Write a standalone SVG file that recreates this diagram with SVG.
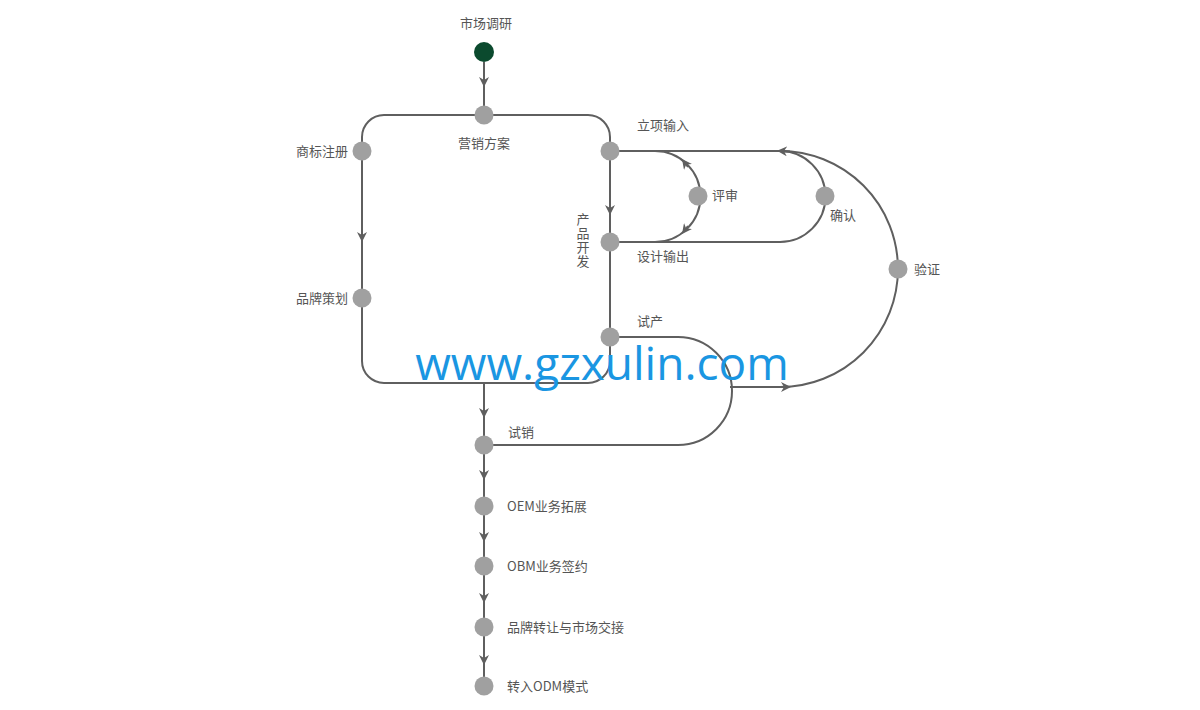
<svg xmlns="http://www.w3.org/2000/svg" width="1200" height="710" viewBox="0 0 1200 710">
<style>
.l{fill:none;stroke:#5f5f5f;stroke-width:2}
.n{fill:#a0a0a0}
text{font-family:"Noto Sans CJK SC","Noto Sans",sans-serif;font-size:13px;fill:#555}
</style>
<defs>
<marker id="a" viewBox="0 0 10 10" refX="5" refY="5" markerWidth="5" markerHeight="5" orient="auto"><path d="M0,0 L10,5 L0,10 L3,5 z" fill="#5f5f5f"/></marker>
</defs>
<rect width="1200" height="710" fill="#fff"/>
<g id="connectors">
<path class="l" d="M484,62 V115 M484,383 V685"/>
<path class="l" d="M484,62 V82" marker-end="url(#a)"/>
<path class="l" d="M484,383 V413" marker-end="url(#a)"/>
<path class="l" d="M484,455 V475" marker-end="url(#a)"/>
<path class="l" d="M484,515 V537" marker-end="url(#a)"/>
<path class="l" d="M484,575 V598" marker-end="url(#a)"/>
<path class="l" d="M484,636 V660" marker-end="url(#a)"/>
<path class="l" d="M384,115 H588 A22,22 0 0 1 610,137 V361 A22,22 0 0 1 588,383 H384 A22,22 0 0 1 362,361 V137 A22,22 0 0 1 384,115 Z"/>
<path class="l" d="M362,160 V237" marker-end="url(#a)"/>
<path class="l" d="M610,160 V210" marker-end="url(#a)"/>
<path class="l" d="M610,151 H780"/>
<path class="l" d="M610,242 H780 A45.5,45.5 0 0 0 780,151"/>
<path class="l" d="M655,151 A45.5,45.5 0 0 1 655,242"/>
<path class="l" d="M688,167 L685,163" marker-end="url(#a)"/>
<path class="l" d="M688,226 L685,230" marker-end="url(#a)"/>
<path class="l" d="M780,387 A118,118 0 0 0 780,151"/>
<path class="l" d="M790,151.5 L782,151" marker-end="url(#a)"/>
<path class="l" d="M610,337 H678 A54,54 0 0 1 678,445 H484"/>
<path class="l" d="M730,387 H786" marker-end="url(#a)"/>
</g>
<g id="n0"><circle cx="484" cy="52" r="10" fill="#0b4a2e"/><text x="486" y="28" text-anchor="middle">市场调研</text></g>
<g id="n1"><circle class="n" cx="484" cy="115" r="9.5"/><text x="484" y="148" text-anchor="middle">营销方案</text></g>
<g id="n2"><circle class="n" cx="362" cy="151" r="9.5"/><text x="348" y="156" text-anchor="end">商标注册</text></g>
<g id="n3"><circle class="n" cx="362" cy="298" r="9.5"/><text x="348" y="303" text-anchor="end">品牌策划</text></g>
<g id="n4"><circle class="n" cx="610" cy="151" r="9.5"/><text x="637" y="130">立项输入</text></g>
<g id="n5"><circle class="n" cx="610" cy="242" r="9.5"/><text x="637" y="261">设计输出</text></g>
<g id="n6"><circle class="n" cx="610" cy="337" r="9.5"/><text x="637" y="326">试产</text></g>
<g id="n7"><circle class="n" cx="698" cy="196" r="9.5"/><text x="712" y="200">评审</text></g>
<g id="n8"><circle class="n" cx="825" cy="196" r="9.5"/><text x="830" y="220">确认</text></g>
<g id="n9"><circle class="n" cx="898" cy="269" r="9.5"/><text x="914" y="274">验证</text></g>
<g id="pd"><text x="583" y="213" style="writing-mode:vertical-rl;letter-spacing:1px" text-anchor="start">产品开发</text></g>
<g id="n10"><circle class="n" cx="484" cy="445" r="9.5"/><text x="508" y="437">试销</text></g>
<g id="n11"><circle class="n" cx="484" cy="506" r="9.5"/><text x="507" y="511">OEM业务拓展</text></g>
<g id="n12"><circle class="n" cx="484" cy="566" r="9.5"/><text x="507" y="571">OBM业务签约</text></g>
<g id="n13"><circle class="n" cx="484" cy="627" r="9.5"/><text x="507" y="632">品牌转让与市场交接</text></g>
<g id="n14"><circle class="n" cx="484" cy="686" r="9.5"/><text x="507" y="691">转入ODM模式</text></g>
<text x="602" y="380" text-anchor="middle" style="font-family:'Open Sans','DejaVu Sans',sans-serif;font-size:46px;fill:#1a96e2">www.gzxulin.com</text>
</svg>
